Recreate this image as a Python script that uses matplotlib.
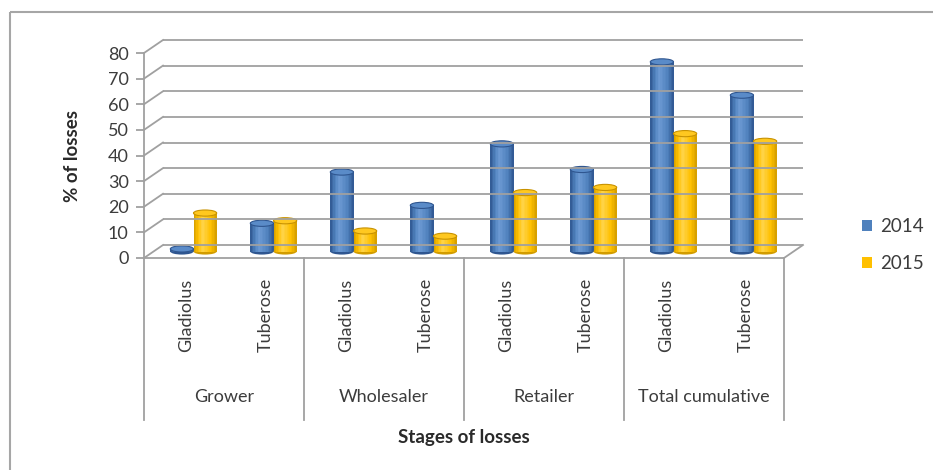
import numpy as np
import matplotlib
matplotlib.use("Agg")
import matplotlib.pyplot as plt
from matplotlib.patches import Ellipse, Patch, Rectangle
from matplotlib.transforms import Affine2D, IdentityTransform, blended_transform_factory
from matplotlib.colors import to_rgb

# loss percentages per stage and crop
stages = ["Grower", "Wholesaler", "Retailer", "Total cumulative"]
crops = ["Gladiolus", "Tuberose"]
years = ["2014", "2015"]
losses_2014 = [1, 11, 31, 18, 42, 32, 74, 61]
losses_2015 = [15, 12, 8, 6, 23, 25, 46, 43]
y_ticks = [0, 10, 20, 30, 40, 50, 60, 70, 80]

W, H = 933, 470
plt.rcParams["font.family"] = ["Lato", "DejaVu Sans"]
TXT = "#3c3c3c"
GRID = "#a0a0a0"

fig = plt.figure(figsize=(W / 100, H / 100), dpi=100)
fig.patch.set_facecolor("white")

# pixel coordinates measured from the top-left corner
px = Affine2D().scale(1, -1).translate(0, H)

x0, x1, y_floor, y_top = 144, 784, 258, 53
ax = fig.add_axes([x0 / W, (H - y_floor) / H, (x1 - x0) / W, (y_floor - y_top) / H])
ax.set_xlim(0, 8)
ax.set_ylim(0, 80)
ax.patch.set_visible(False)
for side in ["top", "right"]:
    ax.spines[side].set_visible(False)
for side in ["left", "bottom"]:
    ax.spines[side].set_color(GRID)
    ax.spines[side].set_linewidth(1.3)
ax.set_xticks([])
ax.set_yticks(y_ticks)
ax.tick_params(axis="y", length=6, width=1.3, color=GRID, labelsize=13,
               labelcolor=TXT, pad=5)

depth = (19, 13)
back = ax.transData + Affine2D().translate(*depth)
mid = ax.transData + Affine2D().translate(depth[0] / 2, depth[1] / 2)

# back wall and side wall gridlines
ax.hlines(y_ticks, 0, 8, colors=GRID, linewidth=1.3, transform=back, clip_on=False)
for v in y_ticks:
    fx, fy = ax.transData.transform((0, v))
    ax.plot([fx, fx + depth[0]], [fy, fy + depth[1]], color=GRID, lw=1.3,
            transform=IdentityTransform(), clip_on=False)
fx, fy = ax.transData.transform((8, 0))
ax.plot([fx, fx + depth[0]], [fy, fy + depth[1]], color=GRID, lw=1.3,
        transform=IdentityTransform(), clip_on=False)


def shade(base, dark, light, n):
    stops = np.array([to_rgb(dark), to_rgb(base), to_rgb(light), to_rgb(base),
                      to_rgb(dark)])
    pos = np.array([0.0, 0.2, 0.38, 0.75, 1.0])
    t = (np.arange(n) + 0.5) / n
    return [tuple(np.interp(ti, pos, stops[:, k]) for k in range(3)) for ti in t]


palettes = {
    "2014": dict(base="#4f81bd", dark="#2f5690", light="#6e9bd5", cap="#5a8bc8",
                 edge="#2f5690"),
    "2015": dict(base="#ffc000", dark="#d29c00", light="#ffd44a", cap="#ffc820",
                 edge="#c89200"),
}

bar_w = 0.29
cap_h = 2.4
n_strips = 16
for series, vals, shift in [("2014", losses_2014, -0.5), ("2015", losses_2015, 0.5)]:
    pal = palettes[series]
    cols = shade(pal["base"], pal["dark"], pal["light"], n_strips)
    for i, v in enumerate(vals):
        c = i + 0.5 + shift * bar_w
        left = c - bar_w / 2
        ax.add_patch(Ellipse((c, 0), bar_w, cap_h, facecolor=pal["dark"],
                             edgecolor="none", transform=mid, clip_on=False))
        ax.bar(left + np.arange(n_strips) * bar_w / n_strips, [v] * n_strips,
               width=bar_w / n_strips * 1.05, align="edge", color=cols,
               linewidth=0, transform=mid, clip_on=False)
        ax.add_patch(Ellipse((c, v), bar_w, cap_h, facecolor=pal["cap"],
                             edgecolor=pal["edge"], linewidth=0.8, transform=mid,
                             clip_on=False))

# category axis: separators, crop labels, stage labels
sep = blended_transform_factory(ax.transData, px)
for g in range(0, 9, 2):
    ax.plot([g, g], [y_floor, 420], color=GRID, lw=1.3, transform=sep, clip_on=False)
for i in range(8):
    ax.text(i + 0.5, 315, crops[i % 2], rotation=90, ha="center", va="center",
            fontsize=13, color=TXT, transform=sep + Affine2D().translate(2, 0))
for g, name in enumerate(stages):
    ax.text(2 * g + 1, 397, name, ha="center", va="center", fontsize=13,
            color=TXT, transform=sep)
ax.text(4, 437, "Stages of losses", ha="center", va="center", fontsize=13.5,
        fontweight="bold", color="#2a2a2a", transform=sep)
fig.text(73, 156, "% of losses", rotation=90, ha="center", va="center",
         fontsize=13.5, fontweight="bold", color="#2a2a2a", transform=px)

handles = [Patch(facecolor=palettes[y]["base"], edgecolor="none") for y in years]
fig.legend(handles, years, loc="center left", bbox_to_anchor=(862 / W, 1 - 245 / H),
           frameon=False, fontsize=13.5, handlelength=0.55, handleheight=0.55,
           handletextpad=0.4, labelspacing=1.05, borderpad=0, borderaxespad=0,
           labelcolor=TXT)

# outer chart border
fig.add_artist(Rectangle((10, 12), 940, 480, fill=False, edgecolor="#a6a6a6",
                         linewidth=1.5, transform=px))

fig.savefig("out.png", dpi=100)
